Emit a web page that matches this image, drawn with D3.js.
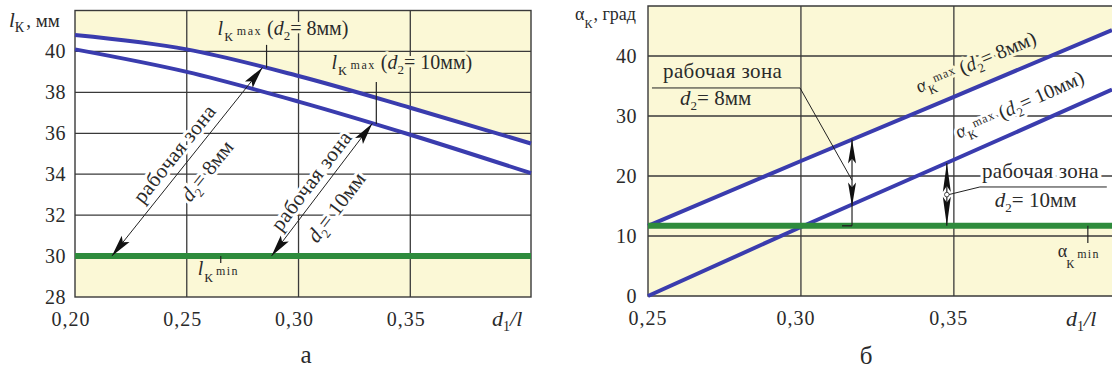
<!DOCTYPE html>
<html><head><meta charset="utf-8">
<script src="https://cdn.jsdelivr.net/npm/d3@7"></script>
<style>
body{margin:0;background:#fff}
svg{display:block}
text{font-family:"Liberation Serif","Times New Roman",serif;fill:#2a2a2a}
</style>
</head><body>
<svg id="c" width="1112" height="372"></svg>
<script>
// ---------- data: chart а ----------
const ratioA = [0.20, 0.25, 0.30, 0.35, 0.404];
const lkMax8 = [40.8, 40.1, 38.8, 37.25, 35.5];
const lkMax10 = [40.1, 39.0, 37.55, 35.93, 34.05];
const lkMin = 30;
const xTicksA = [0.20, 0.25, 0.30, 0.35];
const xTickLabelsA = ["0,20", "0,25", "0,30", "0,35"];
const yTicksA = [28, 30, 32, 34, 36, 38, 40];
const yGridA = [32, 34, 36, 38, 40];

// ---------- data: chart б ----------
const ratioB = [0.25, 0.30, 0.35, 0.4017];
const alphaMax8 = [11.7, 22.5, 33.2, 44.3];
const alphaMax10 = [0, 11.5, 22.7, 34.4];
const alphaMin = 11.7;
const xTicksB = [0.25, 0.30, 0.35];
const xTickLabelsB = ["0,25", "0,30", "0,35"];
const yTicksB = [0, 10, 20, 30, 40];
const yGridB = [10, 20, 30, 40];

const YEL = "#fbf8d6", BLUE = "#3a3cae", GREEN = "#2e8b3c", GRID = "#3a3a3a";
const svg = d3.select("#c");

function rich(parent, parts, attrs) {
  const t = parent.append("text");
  for (const k in attrs) t.attr(k, attrs[k]);
  let cur = 0;
  parts.forEach(p => {
    const b = p.b || 0;
    const ts = t.append("tspan").text(p.t).attr("font-size", p.s || 20).attr("dy", b - cur);
    cur = b;
    if (p.i) ts.attr("font-style", "italic");
    if (p.ls) ts.attr("letter-spacing", p.ls);
    if (p.dx) ts.attr("dx", p.dx);
  });
  return t;
}
function halo(color) {
  return {stroke: color, "stroke-width": 6, "paint-order": "stroke", "stroke-linejoin": "round"};
}
function head(g, tip, from, L, W) {
  const dx = tip[0] - from[0], dy = tip[1] - from[1], len = Math.hypot(dx, dy);
  const ux = dx / len, uy = dy / len, nx = -uy, ny = ux;
  const bx = tip[0] - ux * L, by = tip[1] - uy * L;
  const mx = tip[0] - ux * L * 0.8, my = tip[1] - uy * L * 0.8;
  g.append("path")
    .attr("d", `M${tip[0]},${tip[1]}L${bx + nx * W / 2},${by + ny * W / 2}L${mx},${my}L${bx - nx * W / 2},${by - ny * W / 2}Z`)
    .attr("fill", "#111");
}
function line(g, a, b, w) {
  g.append("line").attr("x1", a[0]).attr("y1", a[1]).attr("x2", b[0]).attr("y2", b[1])
    .attr("stroke", "#222").attr("stroke-width", w || 1);
}

// ================= CHART а =================
{
  const x = d3.scaleLinear().domain([0.20, 0.404]).range([75, 531]);
  const y = d3.scaleLinear().domain([28, 42]).range([297, 10.5]);
  const g = svg.append("g");
  const [x0, x1] = x.range(), [yb, yt] = y.range();
  g.append("rect").attr("x", x0).attr("y", yt).attr("width", x1 - x0).attr("height", yb - yt).attr("fill", "#fff");
  const up = ratioA.map((r, i) => [r, lkMax8[i]]);
  const lo = ratioA.map((r, i) => [r, lkMax10[i]]);
  g.append("path").datum(up)
    .attr("d", d3.area().x(d => x(d[0])).y0(yt).y1(d => y(d[1])).curve(d3.curveMonotoneX))
    .attr("fill", YEL);
  g.append("rect").attr("x", x0).attr("y", y(lkMin)).attr("width", x1 - x0).attr("height", yb - y(lkMin)).attr("fill", YEL);

  g.selectAll(".gy").data(yGridA).join("line")
    .attr("x1", x0).attr("x2", x1).attr("y1", d => y(d)).attr("y2", d => y(d))
    .attr("stroke", GRID).attr("stroke-width", 1.3);
  g.selectAll(".gx").data(xTicksA.slice(1)).join("line")
    .attr("x1", d => x(d)).attr("x2", d => x(d)).attr("y1", yt).attr("y2", yb)
    .attr("stroke", GRID).attr("stroke-width", 1.3);
  g.append("rect").attr("x", x0).attr("y", yt).attr("width", x1 - x0).attr("height", yb - yt)
    .attr("fill", "none").attr("stroke", GRID).attr("stroke-width", 1.4);

  g.selectAll(".ty").data(yTicksA).join("text")
    .attr("x", 66).attr("y", d => y(d) + 7).attr("text-anchor", "end")
    .attr("font-size", 20).attr("letter-spacing", 0.5).text(d => d);
  g.selectAll(".tx").data(xTicksA).join("text")
    .attr("x", d => x(d) - 4).attr("y", 326).attr("text-anchor", "middle")
    .attr("font-size", 20).attr("letter-spacing", 1).text((d, i) => xTickLabelsA[i]);
  rich(g, [{t: "l", i: 1, s: 21}, {t: "К", s: 14, b: 5}, {t: ", мм", s: 19, b: 0, dx: 2}], {x: 9, y: 27});
  rich(g, [{t: "d", i: 1, s: 22}, {t: "1", s: 14, b: 5}, {t: "/", s: 22, b: 0, i: 1}, {t: "l", s: 22, i: 1}], {x: 492, y: 326});
  g.append("text").attr("x", 306).attr("y", 363).attr("text-anchor", "middle").attr("font-size", 25).text("а");

  const lab = (px, py, dtxt, col) => rich(g, [
    {t: "l", i: 1, s: 20}, {t: "К", s: 13, b: 6, dx: 1}, {t: "max", s: 12, b: 0, ls: 1.5, dx: 4},
    {t: " (", s: 20}, {t: "d", i: 1, s: 20}, {t: "2", s: 13, b: 5}, {t: "= " + dtxt + "мм)", s: 20, b: 0}
  ], Object.assign({x: px, y: py}, halo(col)));
  lab(x(0.2638), y(40.81), "8", YEL);
  lab(x(0.3147), y(39.14), "10", YEL);
  rich(g, [{t: "l", i: 1, s: 20}, {t: "К", s: 13, b: 7, dx: 1}, {t: "min", s: 12, b: 0, ls: 1.5, dx: 3}],
    Object.assign({x: x(0.2549), y: y(29.08)}, halo(YEL)));

  const zone = (p0, p1, dtxt, aRab, pRab, aD, pD) => {
    const a = [x(p0[0]), y(p0[1])], b = [x(p1[0]), y(p1[1])];
    const dx = b[0] - a[0], dy = b[1] - a[1], L = Math.hypot(dx, dy);
    const ang = Math.atan2(dy, dx) * 180 / Math.PI;
    const ux = dx / L, uy = dy / L, nx = -uy, ny = ux;
    const put = (al, pp) => [a[0] + ux * al + nx * pp, a[1] + uy * al + ny * pp];
    const c1 = put(aRab, pRab), c2 = put(aD, pD);
    g.append("text").attr("transform", `translate(${c1[0]},${c1[1]}) rotate(${ang})`)
      .attr("text-anchor", "middle").attr("font-size", 21).attr("letter-spacing", 0.4)
      .attr("stroke", "#fff").attr("stroke-width", 6).attr("paint-order", "stroke").attr("stroke-linejoin", "round")
      .text("рабочая зона");
    rich(g, [{t: "d", i: 1, s: 21}, {t: "2", s: 13, b: 5}, {t: "= " + dtxt + "мм", s: 21, b: 0}],
      Object.assign({transform: `translate(${c2[0]},${c2[1]}) rotate(${ang})`, "text-anchor": "middle"}, halo("#fff")));
    return [a, b];
  };
  const arr1 = zone([0.2165, lkMin], [0.2839, 39.22], "8", 119, -8, 126, 28);
  const arr2 = zone([0.2879, lkMin], [0.3330, 36.48], "10", 84, -7, 78, 29);

  const ln = d3.line().x(d => x(d[0])).y(d => y(d[1])).curve(d3.curveMonotoneX);
  g.append("path").datum(up).attr("d", ln).attr("fill", "none").attr("stroke", BLUE).attr("stroke-width", 4);
  g.append("path").datum(lo).attr("d", ln).attr("fill", "none").attr("stroke", BLUE).attr("stroke-width", 4);
  g.append("line").attr("x1", x0).attr("x2", x1).attr("y1", y(lkMin)).attr("y2", y(lkMin))
    .attr("stroke", GREEN).attr("stroke-width", 6);

  [arr1, arr2].forEach(([a, b]) => {
    line(g, a, b, 1);
    head(g, a, b, 22, 10);
    head(g, b, a, 22, 10);
  });
  line(g, [x(0.2857), y(40.32)], [x(0.2857), y(39.2)], 1.2);
  line(g, [x(0.3348), y(38.51)], [x(0.3348), y(36.45)], 1.2);
  line(g, [x(0.2652), y(lkMin)], [x(0.2652), y(29.66)], 1.2);
}

// ================= CHART б =================
{
  const x = d3.scaleLinear().domain([0.25, 0.4017]).range([648, 1112]);
  const y = d3.scaleLinear().domain([0, 48.33]).range([296, 6]);
  const g = svg.append("g");
  const [x0, x1] = x.range(), [yb, yt] = y.range();
  g.append("rect").attr("x", x0).attr("y", yt).attr("width", x1 - x0).attr("height", yb - yt).attr("fill", "#fff");
  const up = ratioB.map((r, i) => [r, alphaMax8[i]]);
  const lo = ratioB.map((r, i) => [r, alphaMax10[i]]);
  g.append("path").datum(up)
    .attr("d", d3.area().x(d => x(d[0])).y0(yt).y1(d => y(d[1])))
    .attr("fill", YEL);
  g.append("rect").attr("x", x0).attr("y", y(alphaMin)).attr("width", x1 - x0).attr("height", yb - y(alphaMin)).attr("fill", YEL);

  g.selectAll(".gy").data(yGridB).join("line")
    .attr("x1", x0).attr("x2", x1).attr("y1", d => y(d)).attr("y2", d => y(d))
    .attr("stroke", GRID).attr("stroke-width", 1.3);
  g.selectAll(".gx").data(xTicksB.slice(1)).join("line")
    .attr("x1", d => x(d)).attr("x2", d => x(d)).attr("y1", yt).attr("y2", yb)
    .attr("stroke", GRID).attr("stroke-width", 1.3);
  g.append("path").attr("d", `M${x1},${yt}H${x0}V${yb}H${x1}`)
    .attr("fill", "none").attr("stroke", GRID).attr("stroke-width", 1.4);

  g.selectAll(".ty").data(yTicksB).join("text")
    .attr("x", 637).attr("y", d => y(d) + 7).attr("text-anchor", "end")
    .attr("font-size", 20).attr("letter-spacing", 0.5).text(d => d);
  g.selectAll(".tx").data(xTicksB).join("text")
    .attr("x", (d, i) => x(d) - (i ? 5 : 0)).attr("y", 325).attr("text-anchor", "middle")
    .attr("font-size", 20).attr("letter-spacing", 1).text((d, i) => xTickLabelsB[i]);
  rich(g, [{t: "α", s: 18}, {t: "К", s: 12, b: 8}, {t: ", град", s: 18, b: 0, dx: 1}], {x: 575, y: 20});
  rich(g, [{t: "d", i: 1, s: 22}, {t: "1", s: 14, b: 5}, {t: "/", s: 22, b: 0, i: 1}, {t: "l", s: 22, i: 1}], {x: 1066, y: 326});
  g.append("text").attr("x", 866).attr("y", 364).attr("text-anchor", "middle").attr("font-size", 25).text("б");

  g.append("text").attr("x", x(0.2549)).attr("y", y(36.33)).attr("font-size", 21).attr("letter-spacing", 0.4)
    .attr("stroke", YEL).attr("stroke-width", 6).attr("paint-order", "stroke").text("рабочая зона");
  rich(g, [{t: "d", i: 1, s: 21}, {t: "2", s: 13, b: 5}, {t: "= 8мм", s: 21, b: 0}],
    Object.assign({x: x(0.2605), y: y(31.83)}, halo(YEL)));
  g.append("text").attr("x", x(0.3592)).attr("y", y(19.67)).attr("font-size", 21).attr("letter-spacing", 0.2)
    .attr("stroke", "#fff").attr("stroke-width", 6).attr("paint-order", "stroke").text("рабочая зона");
  rich(g, [{t: "d", i: 1, s: 21}, {t: "2", s: 13, b: 5}, {t: "= 10мм", s: 21, b: 0}],
    Object.assign({x: x(0.3634), y: y(14.83)}, halo("#fff")));
  rich(g, [{t: "α", s: 18}, {t: "К", s: 12, b: 11, dx: -1}, {t: "min", s: 12, b: 1, ls: 1.2, dx: 3}],
    Object.assign({x: x(0.384), y: y(6.5)}, halo(YEL)));

  const rot = (px, py, ang, dtxt, col) => rich(g, [
    {t: "α", s: 19}, {t: "К", s: 13, b: 6}, {t: "max", s: 12, b: -4, ls: 1}, {t: " (", s: 20, b: 0},
    {t: "d", i: 1, s: 20}, {t: "2", s: 13, b: 5}, {t: "= " + dtxt + "мм)", s: 20, b: 0}
  ], Object.assign({transform: `translate(${px},${py}) rotate(${ang})`}, halo(col)));
  const angU = Math.atan2(y(alphaMax8[3]) - y(alphaMax8[0]), x(ratioB[3]) - x(ratioB[0])) * 180 / Math.PI;
  const angL = Math.atan2(y(alphaMax10[3]) - y(alphaMax10[0]), x(ratioB[3]) - x(ratioB[0])) * 180 / Math.PI;
  rot(x(0.3386), y(33.8), angU, "8", YEL);
  rot(x(0.3516), y(26.2), angL, "10", "#fff");

  const ln = d3.line().x(d => x(d[0])).y(d => y(d[1]));
  g.append("path").datum(up).attr("d", ln).attr("fill", "none").attr("stroke", BLUE).attr("stroke-width", 4);
  g.append("path").datum(lo).attr("d", ln).attr("fill", "none").attr("stroke", BLUE).attr("stroke-width", 4);
  g.append("line").attr("x1", x0).attr("x2", x1).attr("y1", y(alphaMin)).attr("y2", y(alphaMin))
    .attr("stroke", GREEN).attr("stroke-width", 6);

  const interp = (arr, r) => {
    const i = d3.bisectRight(ratioB, r) - 1;
    const t = (r - ratioB[i]) / (ratioB[i + 1] - ratioB[i]);
    return arr[i] + t * (arr[i + 1] - arr[i]);
  };
  line(g, [x(0.2513), y(34.67)], [x(0.2997), y(34.67)], 1);
  line(g, [x(0.2997), y(34.67)], [x(0.3167), y(19.3)], 1);
  const xa = x(0.3167), tU = y(interp(alphaMax8, 0.3167)), tL = y(interp(alphaMax10, 0.3167)), gy = y(alphaMin);
  line(g, [xa, tU], [xa, gy], 1.2);
  line(g, [xa - 10, gy], [xa, gy], 1.4);
  head(g, [xa, tU], [xa, gy], 24, 8);
  head(g, [xa, tL + 2], [xa, tU], 24, 8);

  const xb = x(0.3477), tb = y(interp(alphaMax10, 0.3477));
  line(g, [xb, tb], [xb, gy], 1.2);
  head(g, [xb, tb], [xb, gy], 29, 8);
  head(g, [xb, gy], [xb, tb], 29, 8);
  line(g, [xb + 2, y(16.9)], [x(0.3585), y(18.17)], 1);
  line(g, [x(0.3585), y(18.17)], [x(0.4000), y(18.17)], 1);
  g.append("circle").attr("cx", xb).attr("cy", y(16.9)).attr("r", 2.3).attr("fill", "#fff").attr("stroke", "#222").attr("stroke-width", 0.8);
  line(g, [x(0.3938), y(alphaMin)], [x(0.3938), y(8.83)], 1.2);
}
</script>
</body></html>
